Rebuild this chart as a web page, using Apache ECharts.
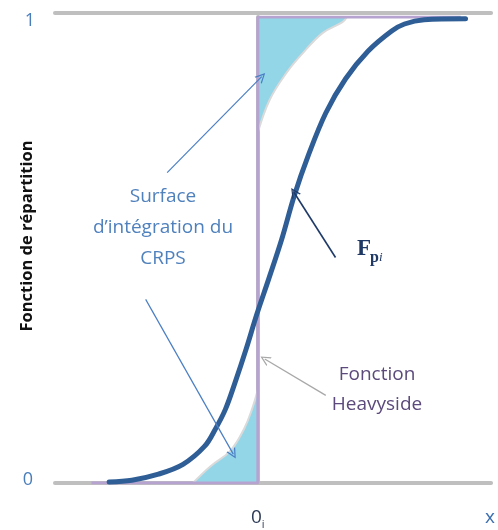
<!DOCTYPE html>
<html>
<head>
<meta charset="utf-8">
<script src="https://cdn.jsdelivr.net/npm/echarts@6/dist/echarts.min.js"></script>
<style>html,body{margin:0;padding:0;background:#fff}#c{width:498px;height:530px}</style>
</head>
<body>
<div id="c"></div>
<script>
// Distribution function F_pi (x, y)
var forecastCDF = [[-0.733,0.002],[-0.621,0.006],[-0.49,0.019],[-0.369,0.04],[-0.262,0.079],[-0.209,0.116],[-0.16,0.158],[-0.112,0.216],[-0.058,0.287],[-0.005,0.362],[0.053,0.437],[0.117,0.522],[0.18,0.617],[0.248,0.702],[0.335,0.794],[0.432,0.867],[0.544,0.927],[0.66,0.97],[0.723,0.985],[0.82,0.994],[1.024,0.996]];
// Heaviside step at the observation 0_i
var heaviside = [[-0.82,0],[0,0],[0,1],[1.0,1]];
// CRPS integration surface edges
var lowerSurface = [[-0.32,0],[-0.233,0.036],[-0.136,0.069],[-0.068,0.116],[-0.029,0.158],[0,0.2]];
var upperSurface = [[0,0.752],[0.058,0.822],[0.141,0.88],[0.223,0.923],[0.32,0.966],[0.417,0.989],[0.44,1.0]];
// Annotation arrows [from, to]
var arrowSurfaceUp = [[-0.447,0.666],[0.019,0.872]];
var arrowSurfaceDown = [[-0.553,0.394],[-0.121,0.062]];
var arrowF = [[0.383,0.484],[0.178,0.624]];
var arrowH = [[0.335,0.188],[0.034,0.266]];
// Tick labels
var yTicks = [0, 1];
var xTickValues = [0, 1.13];

var chevron = 'path://M5,0 L10,10 L8.6,10 L5,2.6 L1.4,10 L0,10 Z';
var chart = echarts.init(document.getElementById('c'));
function arrow(coords, color, width) {
  return {
    type: 'lines', coordinateSystem: 'cartesian2d', z: 10,
    symbol: ['none', chevron], symbolSize: [9, 10],
    lineStyle: {color: color, width: width, opacity: 1, curveness: 0},
    data: [{coords: coords}], silent: true
  };
}
chart.setOption({
  animation: false,
  grid: {left: 55, right: 0, top: 17, bottom: 46},
  xAxis: [{
    type: 'value', min: -1, max: 1.15,
    axisLine: {show: true, lineStyle: {color: '#BFBFBF', width: 4}},
    axisTick: {show: false}, splitLine: {show: false},
    axisLabel: {
      customValues: xTickValues, margin: 23, showMinLabel: true, showMaxLabel: true,
      formatter: function (v) { return v === 0 ? '{a|0}{b|i}' : '{c|x}'; },
      rich: {
        a: {fontSize: 19, color: '#2E3B56', fontFamily: 'Open Sans', lineHeight: 24},
        b: {fontSize: 11, color: '#2E3B56', fontFamily: 'Open Sans', verticalAlign: 'bottom', lineHeight: 12},
        c: {fontSize: 19, color: '#3C6FAF', fontFamily: 'Open Sans', lineHeight: 24, padding: [0, 0, 0, 6]}
      }
    }
  }, {
    type: 'value', min: -1, max: 1.15, position: 'top', offset: 4,
    axisLine: {show: true, lineStyle: {color: '#BFBFBF', width: 4}},
    axisTick: {show: false}, axisLabel: {show: false}, splitLine: {show: false}
  }],
  yAxis: {
    type: 'value', min: 0, max: 1, interval: 1,
    axisLine: {show: true, lineStyle: {color: '#BFBFBF', width: 4}},
    axisTick: {show: false}, splitLine: {show: false},
    axisLabel: {margin: 20,
      formatter: function (v) { return yTicks.indexOf(v) < 0 ? '' : (v === 1 ? '{t|1}' : '{b|0}'); },
      rich: {
        t: {fontSize: 18, color: '#4A7EBB', fontFamily: 'Open Sans', padding: [8, 0, 0, 0]},
        b: {fontSize: 18, color: '#4A7EBB', fontFamily: 'Open Sans', padding: [0, 2, 6, 0]}
      }}
  },
  series: [
    {type: 'line', data: lowerSurface, smooth: 0.4, symbol: 'none', z: 2,
     lineStyle: {color: '#DADADA', width: 2}, areaStyle: {color: '#93D6E8', opacity: 1}},
    {type: 'line', data: upperSurface, smooth: 0.4, symbol: 'none', z: 2,
     lineStyle: {color: '#DADADA', width: 2}, areaStyle: {color: '#93D6E8', opacity: 1, origin: 'end'}},
    {type: 'line', data: heaviside, symbol: 'none', z: 3,
     lineStyle: {color: '#B6A3D0', width: 3}},
    {type: 'line', data: forecastCDF, smooth: 0.35, symbol: 'none', z: 5,
     lineStyle: {color: '#2F5E96', width: 5, cap: 'round'}},
    arrow(arrowSurfaceUp, '#4A7EC4', 1.2),
    arrow(arrowSurfaceDown, '#4A7EC4', 1.2),
    arrow(arrowF, '#1F3A68', 1.6),
    arrow(arrowH, '#A8A8A8', 1.3)
  ],
  graphic: [
    {type: 'text', x: 27, y: 236, rotation: Math.PI / 2,
     style: {text: 'Fonction de répartition', font: 'bold 16.5px "Open Sans"', fill: '#111', align: 'center', verticalAlign: 'middle'}},
    {type: 'text', x: 163, y: 228,
     style: {text: 'Surface\nd\u2019intégration du\nCRPS', font: '19px "Open Sans"', lineHeight: 31, fill: '#4F81BD', align: 'center', verticalAlign: 'middle'}},
    {type: 'text', x: 377, y: 390,
     style: {text: 'Fonction\nHeavyside', font: '19px "Open Sans"', lineHeight: 30, fill: '#5B4A7B', align: 'center', verticalAlign: 'middle'}},
    {type: 'text', x: 357, y: 249,
     style: {text: 'F', font: 'bold 23px "Liberation Serif"', fill: '#1F3864', align: 'left', verticalAlign: 'middle'}},
    {type: 'text', x: 370, y: 258,
     style: {text: 'p', font: 'bold 16px "Liberation Serif"', fill: '#1F3864', align: 'left', verticalAlign: 'middle'}},
    {type: 'text', x: 379, y: 258,
     style: {text: 'i', font: 'italic 13px "Liberation Serif"', fill: '#1F3864', align: 'left', verticalAlign: 'middle'}}
  ]
});
</script>
</body>
</html>
